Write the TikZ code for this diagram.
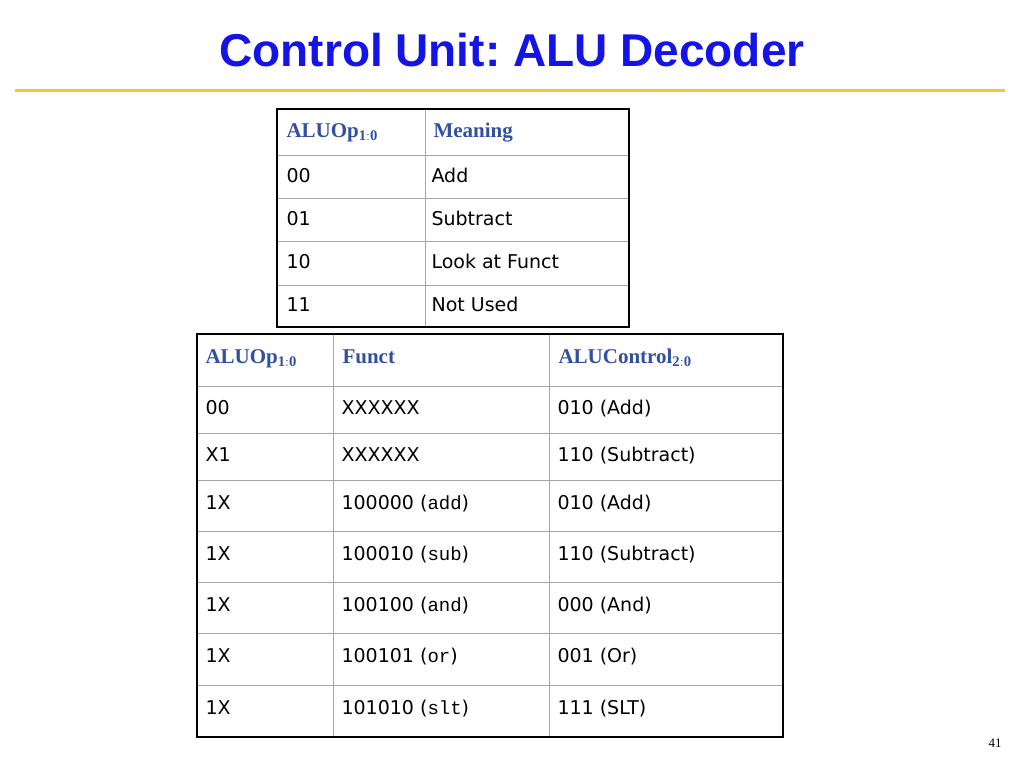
\documentclass[tikz,border=0pt]{standalone}
\usepackage{fontspec}
\setmainfont{Liberation Serif}
\setsansfont{DejaVu Sans}
\setmonofont{Liberation Mono}
\newfontfamily\titlefont{Liberation Sans}
\definecolor{titleblue}{RGB}{20,20,230}
\definecolor{headblue}{RGB}{50,80,160}
\definecolor{gold}{RGB}{240,200,60}
\tikzset{
  cell/.style={anchor=west, text height=14pt, text depth=4pt, font=\sffamily\fontsize{19}{22}\selectfont},
  headcell/.style={anchor=west, text height=15pt, text depth=5pt, text=headblue, font=\bfseries\fontsize{21}{24}\selectfont},
  grid/.style={draw=gray!70, line width=0.8pt},
  frame/.style={draw=black, line width=2.5pt}
}
\begin{document}
\frenchspacing
\begin{tikzpicture}[x=1pt,y=-1pt]
        \useasboundingbox (0,0) rectangle (1024,768);

        % Title
        \node[font=\titlefont\bfseries\fontsize{46}{50}\selectfont, text=titleblue] (title) at (512,50) {Control Unit: ALU Decoder};
        \draw[gold, line width=3pt] (15,90) -- (1005,90);

        % ALUOp table
        \foreach \y in {155,198,241,285} \draw[grid] (277,\y) -- (629,\y);
        \draw[grid] (425,109) -- (425,327);
        \draw[frame] (277,109) rectangle (629,327);
        \node[headcell] (opA) at (283,132) {ALUOp$_{\mathbf{1:0}}$};
        \node[headcell] (mean) at (430,132) {Meaning};
        \foreach \y/\a/\b in {177/00/Add, 220/01/Subtract, 263/10/Look at Funct, 306/11/Not Used} {
          \node[cell] at (283,\y) {\a};
          \node[cell] at (428,\y) {\b};
        }

        % ALU decoder truth table
        \foreach \y in {386,433,480,531,582,633,685} \draw[grid] (197,\y) -- (783,\y);
        \draw[grid] (333,334) -- (333,737);
        \draw[grid] (549,334) -- (549,737);
        \draw[frame] (197,334) rectangle (783,737);
        \node[headcell] (opB) at (202,358) {ALUOp$_{\mathbf{1:0}}$};
        \node[headcell] (funct) at (339,358) {Funct};
        \node[headcell] (ctrl) at (555,358) {ALUControl$_{\mathbf{2:0}}$};
        \foreach \y/\a/\b/\c in {
          409/00/XXXXXX/010 (Add),
          456/X1/XXXXXX/110 (Subtract),
          504/1X/100000 (\texttt{add})/010 (Add),
          555/1X/100010 (\texttt{sub})/110 (Subtract),
          606/1X/100100 (\texttt{and})/000 (And),
          657/1X/100101 (\texttt{or})/001 (Or),
          709/1X/101010 (\texttt{slt})/111 (SLT)} {
          \node[cell] at (202,\y) {\a};
          \node[cell] at (338,\y) {\b};
          \node[cell] at (554,\y) {\c};
        }

        % Page number
        \node[font=\fontsize{13}{15}\selectfont] (page) at (995,743) {41};
\end{tikzpicture}
\end{document}
